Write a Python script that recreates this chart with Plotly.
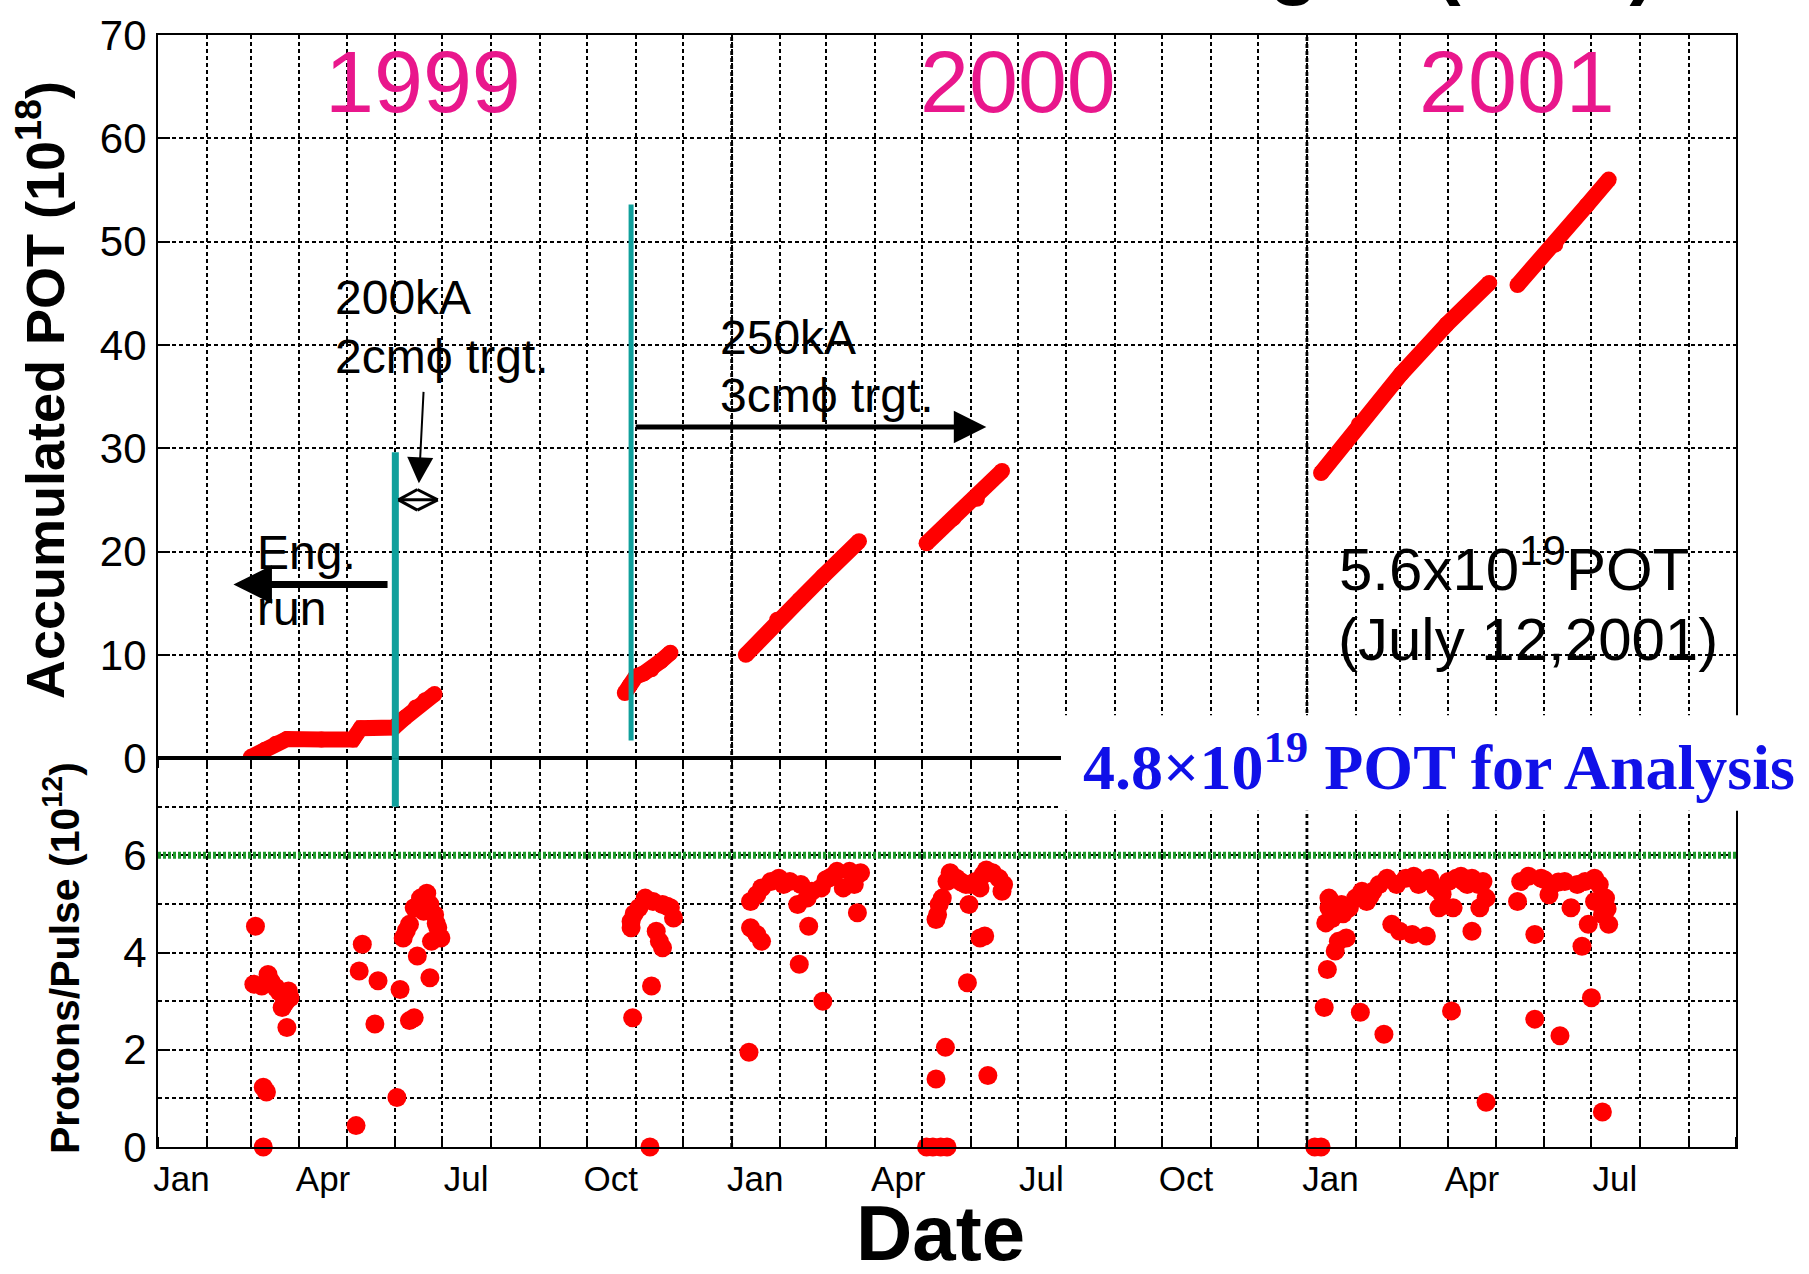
import plotly.graph_objects as go

# ---------------- data ----------------
# Accumulated POT (10^18), upper panel, one list pair per running period
pot_1999a_dates = ["1999-03-01", "1999-03-10", "1999-03-17", "1999-03-24", "1999-04-15",
                   "1999-05-05", "1999-05-10", "1999-05-31", "1999-06-07", "1999-06-14",
                   "1999-06-20", "1999-06-26"]
pot_1999a_values = [0.1, 0.8, 1.4, 1.85, 1.8, 1.8, 2.9, 2.95, 3.9, 4.9, 5.6, 6.2]

pot_1999b_dates = ["1999-10-25", "1999-10-28", "1999-11-01", "1999-11-06", "1999-11-11",
                   "1999-11-17", "1999-11-23"]
pot_1999b_values = [6.3, 7.0, 7.9, 8.2, 8.6, 9.4, 10.2]

pot_2000a_dates = ["2000-01-10", "2000-01-30", "2000-02-13", "2000-02-28", "2000-03-22"]
pot_2000a_values = [10.0, 13.4, 15.3, 17.6, 21.0]

pot_2000b_dates = ["2000-05-04", "2000-05-21", "2000-06-05", "2000-06-21"]
pot_2000b_values = [20.8, 23.2, 25.1, 27.8]

pot_2001a_dates = ["2001-01-10", "2001-02-03", "2001-03-02", "2001-03-31", "2001-04-27"]
pot_2001a_values = [27.6, 32.3, 37.2, 42.0, 46.0]

pot_2001b_dates = ["2001-05-15", "2001-06-08", "2001-06-28", "2001-07-12"]
pot_2001b_values = [45.8, 49.7, 53.5, 56.0]

# Protons / pulse (10^12), lower panel
ppp_1999_dates = ["1999-03-04", "1999-03-03", "1999-03-08", "1999-03-12", "1999-03-17", "1999-03-21",
                  "1999-03-25", "1999-03-26", "1999-03-21", "1999-03-23", "1999-03-24", "1999-03-09",
                  "1999-03-11", "1999-03-09", "1999-05-07", "1999-05-11", "1999-05-09", "1999-05-21",
                  "1999-05-19", "1999-06-04", "1999-06-02", "1999-06-06", "1999-06-10", "1999-06-13",
                  "1999-06-17", "1999-06-21", "1999-06-23", "1999-06-26", "1999-06-28", "1999-06-30",
                  "1999-06-24", "1999-06-19", "1999-06-15", "1999-06-23", "1999-06-10", "1999-06-13",
                  "1999-03-14", "1999-03-19", "1999-06-08", "1999-06-27",
                  "1999-10-29", "1999-10-29", "1999-11-03", "1999-11-07", "1999-11-12", "1999-11-18",
                  "1999-11-23", "1999-11-25", "1999-11-14", "1999-11-16", "1999-11-18", "1999-11-11",
                  "1999-10-30", "1999-11-10", "1999-10-31", "1999-11-21"]
ppp_1999_values = [4.54, 3.35, 3.31, 3.55, 3.28, 3.14,
                   3.21, 3.07, 2.87, 2.97, 2.46, 1.23,
                   1.13, 0.0, 0.44, 4.17, 3.62, 3.42,
                   2.53, 3.24, 1.02, 4.30, 4.58, 4.92,
                   5.12, 5.22, 4.99, 4.78, 4.51, 4.30,
                   4.23, 4.85, 3.93, 3.48, 2.60, 2.66,
                   3.40, 3.20, 4.45, 4.60,
                   4.51, 4.64, 4.92, 5.12, 5.05, 4.99,
                   4.92, 4.71, 4.44, 4.23, 4.10, 3.31,
                   2.66, 0.0, 4.80, 4.95]

ppp_2000_dates = ["2000-01-12", "2000-01-13", "2000-01-17", "2000-01-20", "2000-01-13", "2000-01-17",
                  "2000-01-20", "2000-01-26", "2000-01-31", "2000-02-07", "2000-02-14", "2000-02-12",
                  "2000-02-18", "2000-02-19", "2000-02-21", "2000-02-27", "2000-03-01", "2000-03-08",
                  "2000-03-16", "2000-03-23", "2000-03-19", "2000-03-12", "2000-03-21", "2000-02-13",
                  "2000-02-28", "2000-02-03", "2000-03-04",
                  "2000-05-04", "2000-05-08", "2000-05-13", "2000-05-17", "2000-05-10", "2000-05-16",
                  "2000-06-12", "2000-05-30", "2000-05-10", "2000-05-12", "2000-05-14", "2000-05-11",
                  "2000-05-19", "2000-05-17", "2000-05-23", "2000-05-29", "2000-05-31", "2000-06-04",
                  "2000-06-09", "2000-06-11", "2000-06-15", "2000-06-19", "2000-06-22", "2000-06-21",
                  "2000-06-07", "2000-06-07", "2000-06-10", "2000-05-26", "2000-06-01"]
ppp_2000_values = [1.95, 4.51, 4.37, 4.23, 5.05, 5.19,
                   5.33, 5.46, 5.53, 5.46, 5.40, 4.99,
                   5.12, 4.54, 5.26, 5.33, 5.50, 5.67,
                   5.67, 5.64, 5.40, 5.33, 4.82, 3.76,
                   3.00, 5.40, 5.55,
                   0.0, 0.0, 0.0, 0.0, 1.40, 2.05,
                   1.47, 3.38, 4.68, 4.99, 5.12, 4.78,
                   5.64, 5.46, 5.53, 5.40, 4.99, 5.46,
                   5.60, 5.70, 5.64, 5.53, 5.40, 5.26,
                   5.33, 4.30, 4.34, 5.45, 5.40]

ppp_2001_dates = ["2001-01-06", "2001-01-10", "2001-01-12", "2001-01-14", "2001-01-19", "2001-01-21",
                  "2001-01-26", "2001-01-13", "2001-01-15", "2001-01-15", "2001-01-19", "2001-01-23",
                  "2001-01-28", "2001-02-01", "2001-02-05", "2001-02-08", "2001-02-12", "2001-02-16",
                  "2001-02-21", "2001-02-27", "2001-03-05", "2001-03-10", "2001-03-16", "2001-03-20",
                  "2001-03-24", "2001-03-26", "2001-04-01", "2001-04-04", "2001-04-06", "2001-04-09",
                  "2001-04-13", "2001-04-16", "2001-04-20", "2001-04-23", "2001-04-21", "2001-04-25",
                  "2001-02-24", "2001-03-01", "2001-03-09", "2001-03-18", "2001-04-16", "2001-02-04",
                  "2001-02-19", "2001-04-03", "2001-04-25",
                  "2001-01-17", "2001-01-24", "2001-02-10", "2001-03-13", "2001-03-28", "2001-04-11",
                  "2001-05-15", "2001-05-17", "2001-05-22", "2001-05-30", "2001-06-06", "2001-06-04",
                  "2001-06-14", "2001-06-18", "2001-06-22", "2001-06-27", "2001-07-03", "2001-07-06",
                  "2001-07-10", "2001-07-08", "2001-07-12", "2001-06-29", "2001-07-03", "2001-05-26",
                  "2001-06-25", "2001-07-01", "2001-05-26", "2001-06-11", "2001-07-08",
                  "2001-06-01", "2001-06-10", "2001-07-11"]
ppp_2001_values = [0.0, 0.0, 2.87, 3.65, 4.03, 4.23,
                   4.30, 4.61, 4.92, 5.12, 4.85, 4.99,
                   4.92, 5.12, 5.26, 5.05, 5.26, 5.40,
                   5.53, 5.40, 5.53, 5.57, 5.46, 5.53,
                   5.33, 4.92, 5.46, 4.92, 5.53, 5.57,
                   5.40, 5.53, 5.40, 5.46, 4.92, 5.12,
                   4.58, 4.44, 4.37, 4.34, 4.44, 2.77,
                   2.32, 2.80, 0.92,
                   4.70, 4.80, 5.15, 5.40, 5.20, 5.45,
                   5.05, 5.46, 5.57, 5.53, 5.40, 5.19,
                   5.46, 4.92, 5.40, 5.46, 5.53, 5.40,
                   5.12, 4.78, 4.58, 4.58, 5.05, 4.37,
                   4.13, 3.07, 2.63, 2.29, 0.72,
                   5.50, 5.45, 4.90]

# axis tick labels (placed mid-month, gridlines at month starts)
tick_years = [1999, 1999, 1999, 1999, 2000, 2000, 2000, 2000, 2001, 2001, 2001]
tick_months = [1, 4, 7, 10, 1, 4, 7, 10, 1, 4, 7]
tick_labels = ["Jan", "Apr", "Jul", "Oct", "Jan", "Apr", "Jul", "Oct", "Jan", "Apr", "Jul"]
year_labels = ["1999", "2000", "2001"]

# ---------------- style ----------------
SANS = "Liberation Sans, Arial, sans-serif"
SERIF = "Liberation Serif, Times New Roman, serif"
RED = "#ff0000"
TEAL = "#10a09c"
GREEN = "#1f9a2c"
PINK = "#e9178c"
BLUE = "#1010e8"
GRID_DASH = "4px,3px"
GRID_W = 1.6

W, H = 1809, 1274
L, R, T, B = 158, 1736, 29, 1147
SPLIT = 756  # pixel row of the POT zero line / panel boundary


def xp(X):
    return (X - L) / (R - L)


def yp(Y):
    return (B - Y) / (B - T)


low_top = yp(SPLIT)

fig = go.Figure()

pot_segments = [
    (pot_1999a_dates, pot_1999a_values), (pot_1999b_dates, pot_1999b_values),
    (pot_2000a_dates, pot_2000a_values), (pot_2000b_dates, pot_2000b_values),
    (pot_2001a_dates, pot_2001a_values), (pot_2001b_dates, pot_2001b_values),
]
for d, v in pot_segments:
    fig.add_trace(go.Scatter(x=d, y=v, mode="lines+markers", xaxis="x", yaxis="y",
                             line=dict(color=RED, width=16),
                             marker=dict(color=RED, size=16), hoverinfo="skip"))

for d, v in [(ppp_1999_dates, ppp_1999_values), (ppp_2000_dates, ppp_2000_values),
             (ppp_2001_dates, ppp_2001_values)]:
    fig.add_trace(go.Scatter(x=d, y=v, mode="markers", xaxis="x", yaxis="y2",
                             marker=dict(color=RED, size=19, line=dict(width=0)),
                             hoverinfo="skip", cliponaxis=False))

tick_vals = [f"{y}-{m:02d}-16" for y, m in zip(tick_years, tick_months)]

fig.update_layout(
    width=W, height=H,
    margin=dict(l=L, r=W - R, t=T, b=H - B, pad=0),
    paper_bgcolor="white", plot_bgcolor="white",
    showlegend=False,
    xaxis=dict(
        type="date", range=["1999-01-01", "2001-10-01"], anchor="y2", domain=[0, 1],
        tickmode="array", tickvals=tick_vals, ticktext=tick_labels, ticks="",
        showgrid=False, zeroline=False,
        tickfont=dict(family=SANS, size=35, color="black"), ticklabelstandoff=0,
        showline=True, linecolor="black", linewidth=2.2, mirror="allticks",
        minor=dict(dtick="M1", tick0="1999-01-01", ticks="inside", ticklen=10,
                   tickwidth=1.6, tickcolor="black", showgrid=True, gridcolor="black",
                   gridwidth=GRID_W, griddash=GRID_DASH),
    ),
    yaxis=dict(
        domain=[low_top, 1], range=[0, 70], tick0=0, dtick=10, anchor="x",
        showgrid=True, gridcolor="black", gridwidth=GRID_W, griddash=GRID_DASH,
        zeroline=False, ticks="inside", ticklen=12, tickwidth=1.6, tickcolor="black",
        showline=True, linecolor="black", linewidth=2.2, mirror=True,
        tickfont=dict(family=SANS, size=42, color="black"), ticklabelstandoff=1,
    ),
    yaxis2=dict(
        domain=[0, low_top], range=[0, 8], tickmode="array", tickvals=[0, 2, 4, 6],
        anchor="x", showgrid=True, gridcolor="black", gridwidth=GRID_W, griddash=GRID_DASH,
        zeroline=False, ticks="inside", ticklen=12, tickwidth=1.6, tickcolor="black",
        showline=True, linecolor="black", linewidth=2.2, mirror=True,
        tickfont=dict(family=SANS, size=42, color="black"), ticklabelstandoff=1,
        minor=dict(dtick=1, tick0=0, showgrid=True, gridcolor="black", gridwidth=GRID_W,
                   griddash=GRID_DASH),
    ),
)

shapes = []
# heavier year-boundary gridlines
for yb in ["2000-01-01", "2001-01-01"]:
    shapes.append(dict(type="line", xref="x", yref="paper", x0=yb, x1=yb, y0=0, y1=1,
                       line=dict(color="black", width=2.8, dash=GRID_DASH), layer="below"))
# teal run-boundary markers
shapes.append(dict(type="line", xref="x", yref="y", x0="1999-06-01", x1="1999-06-01",
                   y0=0, y1=29.6, line=dict(color=TEAL, width=7), layer="above"))
shapes.append(dict(type="line", xref="x", yref="y2", x0="1999-06-01", x1="1999-06-01",
                   y0=7, y1=8, line=dict(color=TEAL, width=7), layer="above"))
shapes.append(dict(type="line", xref="x", yref="y", x0="1999-10-29", x1="1999-10-29",
                   y0=1.7, y1=53.6, line=dict(color=TEAL, width=5), layer="above"))
# design-intensity line (6e12)
shapes.append(dict(type="line", xref="paper", yref="y2", x0=0, x1=1, y0=6, y1=6,
                   line=dict(color=GREEN, width=7, dash="3px,2px"), layer="above"))
# small double arrow for the 200kA period
dl, dc, dr = "1999-06-03", "1999-06-15", "1999-06-28"
for (xa, ya, xb, yb) in [(dl, 25.0, dc, 26.0), (dl, 25.0, dc, 24.0), (dc, 26.0, dr, 25.0),
                         (dc, 24.0, dr, 25.0), (dl, 25.0, dr, 25.0)]:
    shapes.append(dict(type="line", xref="x", yref="y", x0=xa, x1=xb, y0=ya, y1=yb,
                       line=dict(color="black", width=3), layer="above"))
# white panel behind the blue note
shapes.append(dict(type="rect", xref="paper", yref="paper", x0=xp(1061), x1=xp(1809) + 0.02,
                   y0=yp(809), y1=yp(713), fillcolor="white", line=dict(width=0),
                   layer="above"))
fig.update_layout(shapes=shapes)

ann = []


def txt(s, X, Y, size, color="black", family=SANS, xanchor="left", yanchor="middle", angle=0):
    ann.append(dict(text=s, x=xp(X), y=yp(Y), xref="paper", yref="paper",
                    xanchor=xanchor, yanchor=yanchor, showarrow=False, textangle=angle,
                    font=dict(family=family, size=size, color=color)))


# cut-off slide title at the very top (only the descenders show)
txt("<b>Beam Running at (KEK)</b>", 1658, 2, 80, xanchor="right", yanchor="bottom")

for lab, X in zip(year_labels, [423, 1018, 1517]):
    txt(lab, X, 76, 88, color=PINK, xanchor="center")

txt("200kA", 333, 293, 48)
txt("2cm\u03d5 trgt.", 333, 352, 48)
txt("Eng.", 255, 549, 48)
txt("run", 255, 606, 48)
txt("250kA", 718, 333, 48)
txt("3cm\u03d5 trgt.", 718, 391, 48)
txt("5.6x10<sup>19</sup>POT", 1337, 562, 60)
txt("(July 12,2001)", 1336, 637, 60)
txt("<b>4.8\u00d710<sup>19</sup> POT for Analysis</b>", 1081, 760, 64, color=BLUE, family=SERIF)

txt("<b>Accumulated POT (10<sup>18</sup>)</b>", 41, 386, 54, xanchor="center", angle=-90)
txt("<b>Protons/Pulse (10<sup>12</sup>)</b>", 62, 957, 41, xanchor="center", angle=-90)
txt("<b>Date</b>", 940, 1233, 78, xanchor="center")


def arrow(x_tip, y_tip, x_tail, y_tail, width, size):
    ann.append(dict(x=x_tip, y=y_tip, ax=x_tail, ay=y_tail, xref="x", yref="y",
                    axref="x", ayref="y", text="", showarrow=True, arrowhead=2,
                    arrowsize=size, arrowwidth=width, arrowcolor="black",
                    standoff=0, startstandoff=0))


arrow("1999-02-18", 16.8, "1999-05-28", 16.8, 7, 1.1)        # Eng. run
arrow("2000-06-11", 32.05, "1999-10-31", 32.05, 5, 1.3)      # 250kA period
arrow("1999-06-16", 26.6, "1999-06-19", 35.6, 2, 2.6)        # pointer to 200kA period

fig.update_layout(annotations=ann)

fig.write_html("out.html", include_plotlyjs=True, config={"displayModeBar": False},
               post_script="document.body.style.margin='0';document.body.style.overflow='hidden';")
